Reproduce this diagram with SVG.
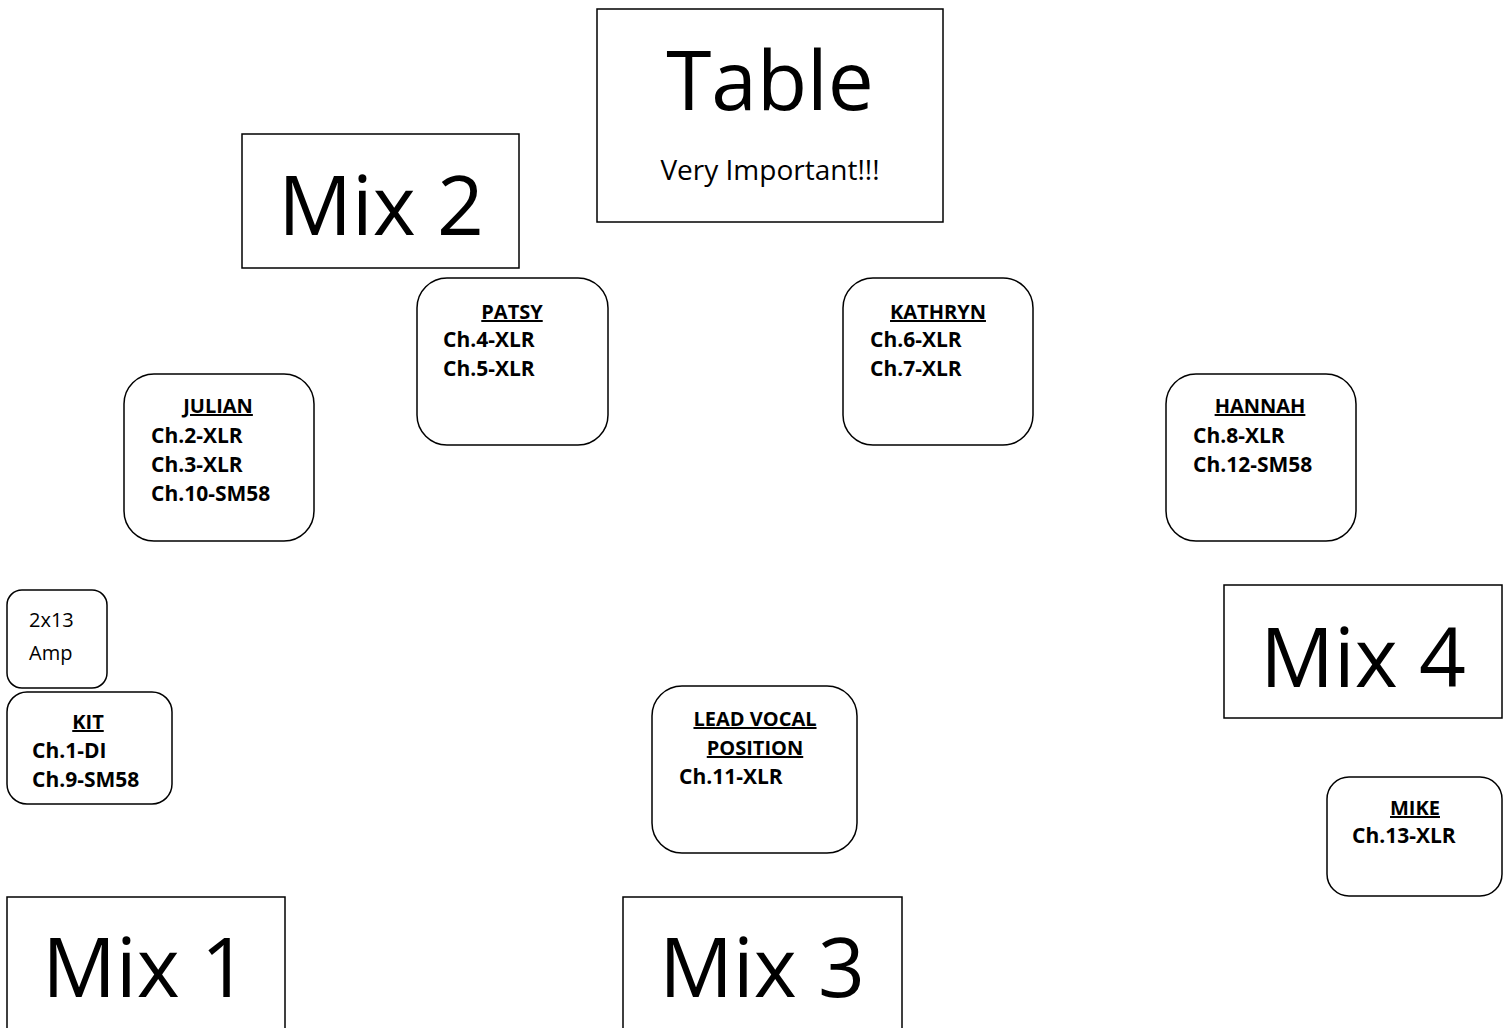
<svg xmlns="http://www.w3.org/2000/svg" width="1512" height="1028" viewBox="0 0 1512 1028">
<style>
.box{fill:#fff;stroke:#000;stroke-width:1.5}
.rbox{fill:#fff;stroke:#000;stroke-width:1.5}
.big{font-family:"Open Sans","Liberation Sans",sans-serif;font-size:82px;fill:#000;text-anchor:middle}
.sub{font-family:"Open Sans","Liberation Sans",sans-serif;font-size:28px;fill:#000;text-anchor:middle}
.hd{font-family:"Open Sans","Liberation Sans",sans-serif;font-size:20px;font-weight:bold;fill:#000;text-anchor:middle;text-decoration:underline}
.ln{font-family:"Open Sans","Liberation Sans",sans-serif;font-size:21px;font-weight:bold;fill:#000}
.amp{font-family:"Open Sans","Liberation Sans",sans-serif;font-size:20px;fill:#000}
</style>
<rect width="1512" height="1028" fill="#fff"/>
<g id="table">
<rect class="box" x="597" y="9" width="346" height="213"/>
<text class="big" x="770" y="110">Table</text>
<text class="sub" x="770" y="180">Very Important!!!</text>
</g>
<g id="mix2">
<rect class="box" x="242" y="134" width="277" height="134"/>
<text class="big" x="381" y="235">Mix 2</text>
</g>
<g id="mix4">
<rect class="box" x="1224" y="585" width="278" height="133"/>
<text class="big" x="1363" y="687">Mix 4</text>
</g>
<g id="mix1">
<rect class="box" x="7" y="897" width="278" height="140"/>
<text class="big" x="145" y="997">Mix 1</text>
</g>
<g id="mix3">
<rect class="box" x="623" y="897" width="279" height="140"/>
<text class="big" x="762" y="997">Mix 3</text>
</g>
<g id="patsy">
<rect class="rbox" x="417" y="278" width="191" height="167" rx="30"/>
<text class="hd" x="512" y="319">PATSY</text>
<text class="ln" x="443" y="347">Ch.4-XLR</text>
<text class="ln" x="443" y="376">Ch.5-XLR</text>
</g>
<g id="kathryn">
<rect class="rbox" x="843" y="278" width="190" height="167" rx="30"/>
<text class="hd" x="938" y="319">KATHRYN</text>
<text class="ln" x="870" y="347">Ch.6-XLR</text>
<text class="ln" x="870" y="376">Ch.7-XLR</text>
</g>
<g id="julian">
<rect class="rbox" x="124" y="374" width="190" height="167" rx="30"/>
<text class="hd" x="218" y="413">JULIAN</text>
<text class="ln" x="151" y="443">Ch.2-XLR</text>
<text class="ln" x="151" y="472">Ch.3-XLR</text>
<text class="ln" x="151" y="501">Ch.10-SM58</text>
</g>
<g id="hannah">
<rect class="rbox" x="1166" y="374" width="190" height="167" rx="30"/>
<text class="hd" x="1260" y="413">HANNAH</text>
<text class="ln" x="1193" y="443">Ch.8-XLR</text>
<text class="ln" x="1193" y="472">Ch.12-SM58</text>
</g>
<g id="amp">
<rect class="rbox" x="7" y="590" width="100" height="98" rx="15"/>
<text class="amp" x="29" y="627">2x13</text>
<text class="amp" x="29" y="660">Amp</text>
</g>
<g id="kit">
<rect class="rbox" x="7" y="692" width="165" height="112" rx="20"/>
<text class="hd" x="88" y="729">KIT</text>
<text class="ln" x="32" y="758">Ch.1-DI</text>
<text class="ln" x="32" y="787">Ch.9-SM58</text>
</g>
<g id="leadvocal">
<rect class="rbox" x="652" y="686" width="205" height="167" rx="30"/>
<text class="hd" x="755" y="726">LEAD VOCAL</text>
<text class="hd" x="755" y="755">POSITION</text>
<text class="ln" x="679" y="784">Ch.11-XLR</text>
</g>
<g id="mike">
<rect class="rbox" x="1327" y="777" width="175" height="119" rx="22"/>
<text class="hd" x="1415" y="815">MIKE</text>
<text class="ln" x="1352" y="843">Ch.13-XLR</text>
</g>
<g id="connectors"/>
</svg>
